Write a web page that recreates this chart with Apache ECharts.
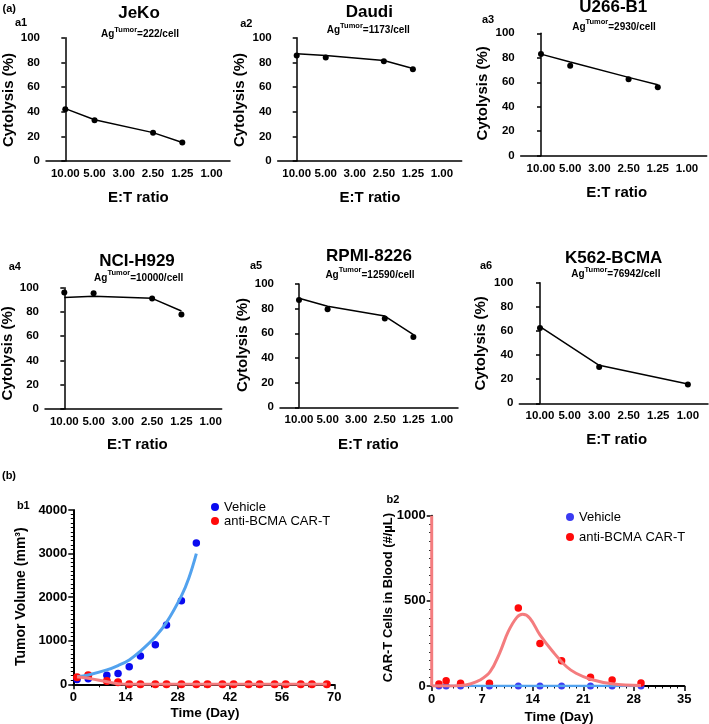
<!DOCTYPE html>
<html><head><meta charset="utf-8">
<script src="https://cdn.jsdelivr.net/npm/echarts@6/dist/echarts.min.js"></script>
<style>html,body{margin:0;padding:0;background:#fff}#c{width:709px;height:724px}</style>
</head><body><div id="c"></div>
<script>
// ---------- DATA ----------
const etLabels = ['10.00', '5.00', '3.00', '2.50', '1.25', '1.00'];
const cellLines = ['JeKo', 'Daudi', 'U266-B1', 'NCI-H929', 'RPMI-8226', 'K562-BCMA'];
const agValues = ['222', '1173', '2930', '10000', '12590', '76942'];
const panelTags = ['a1', 'a2', 'a3', 'a4', 'a5', 'a6'];

const ratios4 = ['10.00', '5.00', '2.50', '1.25'];
const ratios3 = ['10.00', '3.00', '1.00'];

const a1Points = [42, 33, 23, 15];
const a1Line = [42.5, 33.5, 23, 15];
const a2Points = [85.5, 84, 81, 74.5];
const a2Line = [87, 85.5, 81.5, 75];
const a3Points = [83, 73.5, 62.5, 56];
const a3Line = [83, 76.5, 64, 58];
const a4Points = [96, 95.5, 91, 78];
const a4Line = [92, 93, 91.2, 80.8];
const a5Points = [87, 79.5, 72, 57];
const a5Line = [88.5, 82, 74, 59];
const a6Points = [62.5, 30, 15.5];
const a6Line = [63.5, 31.5, 16];

// b1: tumor volume
const vehDays = [1, 4, 9, 12, 15, 18, 22, 25, 29, 33];
const vehVol = [112, 125, 205, 250, 400, 650, 910, 1360, 1915, 3240];
const carDays = [1, 4, 9, 12, 15, 18, 22, 25, 29, 33, 36, 40, 43, 47, 50, 54, 57, 61, 64, 68];
const carVol = [160, 210, 75, 45, 0, 0, 0, 0, 0, 0, 0, 0, 0, 0, 0, 0, 0, 0, 0, 0];
const vehFitDays = [1, 4, 9, 12, 15, 18, 22, 25, 29, 31, 33];
const vehFitVol = [175, 215, 330, 430, 560, 760, 1090, 1420, 2030, 2440, 3000];
const carFitDays = [1, 4, 9, 12, 15, 68];
const carFitVol = [175, 140, 60, 15, 2, 0];

// b2: CAR-T cells in blood
const bloodDays = [1, 2, 4, 8, 12, 15, 18, 22, 25, 29];
const bloodCar = [12, 31, 16, 16, 458, 250, 149, 51, 35, 18];
const bloodVeh = [0, 0, 0, 0, 0, 0, 0, 0, 0, 0];
const bloodVehFitDays = [0, 29];
const bloodVehFitVal = [0, 0];
const bloodCarSpikeDays = [0, 0];
const bloodCarSpikeVal = [0, 1000];
const bloodCarFitDays = [0, 2, 4, 5.3, 6.7, 8.1, 9.4, 10.6, 11.8, 12.6, 13.6, 15, 16.8, 18.7, 20, 22, 25, 29];
const bloodCarFitVal = [0, 0, 3, 12, 35, 84, 192, 319, 403, 421, 398, 300, 201, 113, 75, 40, 13, 3];

// ---------- LAYOUT ----------
const FONT = '"Liberation Sans", Arial, Helvetica, sans-serif';
const aLayout = [
  {left: 46, top: 37.7, right: 230, bottom: 161, xmin: -0.66, xmax: 5.63},
  {left: 277.7, top: 37.7, right: 461.7, bottom: 161, xmin: -0.654, xmax: 5.68},
  {left: 520.7, top: 33.3, right: 706.7, bottom: 155.7, xmin: -0.695, xmax: 5.675},
  {left: 45, top: 287.7, right: 221.7, bottom: 409, xmin: -0.66, xmax: 5.376},
  {left: 280, top: 284, right: 458, bottom: 407.3, xmin: -0.664, xmax: 5.56},
  {left: 519.3, top: 282.7, right: 708, bottom: 403.3, xmin: -0.70, xmax: 5.68}
];
const aText = [
  {title: [139, 13], sub: [140, 32.5], tag: [21, 23.3], ylab: [9.2, 100], xlab: [138.3, 198.3]},
  {title: [369.3, 12.7], sub: [368.3, 28.5], tag: [246.3, 24], ylab: [240, 100], xlab: [370, 198.3]},
  {title: [613.3, 7], sub: [614, 25], tag: [488, 20], ylab: [482.5, 93.3], xlab: [616.7, 193]},
  {title: [137, 261.7], sub: [138.7, 276], tag: [14.8, 266.7], ylab: [7.5, 353.3], xlab: [137.3, 445]},
  {title: [369, 256.7], sub: [370, 273.3], tag: [256, 266], ylab: [243.2, 345], xlab: [368.3, 445]},
  {title: [613.7, 258.3], sub: [615.8, 272.7], tag: [486, 266], ylab: [480.8, 343.3], xlab: [616.7, 440]}
];

const aPoints = [a1Points, a2Points, a3Points, a4Points, a5Points, a6Points];
const aLines = [a1Line, a2Line, a3Line, a4Line, a5Line, a6Line];
const aRatios = [ratios4, ratios4, ratios4, ratios4, ratios4, ratios3];

const grids = [], xAxes = [], yAxes = [], series = [], graphics = [];
const plain = v => String(v);

function txt(x, y, text, size, weight, extra) {
  const o = {type: 'text', x: x, y: y, z: 100,
    style: Object.assign({text: text, fontSize: size, fontWeight: weight || 'bold', fontFamily: FONT,
      fill: '#000', align: 'center', verticalAlign: 'middle'}, (extra && extra.style) || {})};
  if (extra && extra.rotation) o.rotation = extra.rotation;
  graphics.push(o);
}

for (let i = 0; i < 6; i++) {
  const L = aLayout[i];
  grids.push({left: L.left, top: L.top, width: L.right - L.left, height: L.bottom - L.top, containLabel: false, outerBoundsMode: 'none'});
  xAxes.push({
    type: 'value', gridIndex: i, min: L.xmin, max: L.xmax,
    axisLine: {show: true, onZero: false, lineStyle: {color: '#000', width: 1.5}},
    axisTick: {show: false}, splitLine: {show: false},
    axisLabel: {
      customValues: etLabels.map((_, k) => k),
      formatter: v => etLabels[Math.round(v)],
      fontSize: 11.5, fontWeight: 'bold', fontFamily: FONT, color: '#000', margin: 7
    }
  });
  yAxes.push({
    type: 'value', gridIndex: i, min: 0, max: 100, interval: 20,
    axisLine: {show: true, lineStyle: {color: '#000', width: 1.5}},
    axisTick: {show: true, length: 4, lineStyle: {color: '#000', width: 1.5}},
    splitLine: {show: false},
    axisLabel: {fontSize: 11.5, fontWeight: 'bold', fontFamily: FONT, color: '#000', margin: 6, formatter: plain}
  });
  const r = aRatios[i];
  series.push({
    type: 'line', xAxisIndex: i, yAxisIndex: i, symbol: 'none', silent: true,
    lineStyle: {color: '#000', width: 1.5},
    data: aLines[i].map((v, k) => [etLabels.indexOf(r[k]), v])
  });
  series.push({
    type: 'scatter', xAxisIndex: i, yAxisIndex: i, symbolSize: 6,
    itemStyle: {color: '#000', opacity: 1},
    data: aPoints[i].map((v, k) => [etLabels.indexOf(r[k]), v])
  });
  const T = aText[i];
  txt(T.title[0], T.title[1], cellLines[i], 17, 'bold');
  graphics.push({type: 'text', x: T.sub[0], y: T.sub[1], z: 100, style: {
    text: '{a|Ag}{s|Tumor}{a|=' + agValues[i] + '/cell}', align: 'center', verticalAlign: 'middle',
    fontFamily: FONT, fill: '#000',
    rich: {
      a: {fontSize: 10, fontWeight: 'bold', fontFamily: FONT, fill: '#000', lineHeight: 14, verticalAlign: 'bottom'},
      s: {fontSize: 7.5, fontWeight: 'bold', fontFamily: FONT, fill: '#000', lineHeight: 14, verticalAlign: 'top'}
    }}});
  txt(T.tag[0], T.tag[1], panelTags[i], 11, 'bold');
  txt(T.ylab[0], T.ylab[1], 'Cytolysis (%)', 15, 'bold', {rotation: Math.PI / 2});
  txt(T.xlab[0], T.xlab[1], 'E:T ratio', 15, 'bold');
}
txt(9.2, 9.2, '(a)', 11, 'bold');
txt(9, 476, '(b)', 11, 'bold');
txt(23.3, 506, 'b1', 11, 'bold');
txt(393, 499.5, 'b2', 11, 'bold');

// b1 grid index 6
grids.push({left: 73.3, top: 510, width: 261, height: 174.3, containLabel: false, outerBoundsMode: 'none'});
xAxes.push({
  type: 'value', gridIndex: 6, min: 0, max: 70, interval: 14,
  axisLine: {show: true, onZero: false, lineStyle: {color: '#000', width: 2}},
  axisTick: {show: true, length: 5, lineStyle: {color: '#000', width: 1.5}},
  minorTick: {show: true, splitNumber: 2, length: 3, lineStyle: {color: '#000', width: 1}},
  splitLine: {show: false}, minorSplitLine: {show: false},
  axisLabel: {fontSize: 13, fontWeight: 'bold', fontFamily: FONT, color: '#000', margin: 7, formatter: plain}
});
yAxes.push({
  type: 'value', gridIndex: 6, min: 0, max: 4000, interval: 1000,
  axisLine: {show: true, lineStyle: {color: '#000', width: 2}},
  axisTick: {show: true, length: 5, lineStyle: {color: '#000', width: 1.5}},
  minorTick: {show: true, splitNumber: 10, length: 2.5, lineStyle: {color: '#000', width: 1}},
  splitLine: {show: false}, minorSplitLine: {show: false},
  axisLabel: {fontSize: 13, fontWeight: 'bold', fontFamily: FONT, color: '#000', margin: 6, formatter: plain}
});
// b2 grid index 7
grids.push({left: 431.7, top: 515.7, width: 252.6, height: 170.3, containLabel: false, outerBoundsMode: 'none'});
xAxes.push({
  type: 'value', gridIndex: 7, min: 0, max: 35, interval: 7,
  axisLine: {show: true, onZero: false, lineStyle: {color: '#000', width: 2}},
  axisTick: {show: true, length: 5, lineStyle: {color: '#000', width: 1.5}},
  minorTick: {show: true, splitNumber: 7, length: 2.5, lineStyle: {color: '#000', width: 1}},
  splitLine: {show: false}, minorSplitLine: {show: false},
  axisLabel: {fontSize: 13, fontWeight: 'bold', fontFamily: FONT, color: '#000', margin: 7, formatter: plain}
});
yAxes.push({
  type: 'value', gridIndex: 7, min: 0, max: 1000, interval: 500,
  axisLine: {show: true, lineStyle: {color: '#000', width: 2}},
  axisTick: {show: true, length: 5, lineStyle: {color: '#000', width: 1.5}},
  minorTick: {show: true, splitNumber: 10, length: 2.5, lineStyle: {color: '#000', width: 1}},
  splitLine: {show: false}, minorSplitLine: {show: false},
  axisLabel: {fontSize: 13, fontWeight: 'bold', fontFamily: FONT, color: '#000', margin: 6, formatter: plain}
});

const BLUE = '#0a0af0', BLUE2 = '#3b3bf2', RED = '#ff0a0a', LBLUE = '#52a2ee', PINK = '#f47c7e';
series.push(
  {type: 'line', name: 'vehFit', xAxisIndex: 6, yAxisIndex: 6, symbol: 'none', smooth: 0.4, silent: true,
   lineStyle: {color: LBLUE, width: 3}, data: vehFitDays.map((d, k) => [d, vehFitVol[k]])},
  {type: 'line', name: 'carFit', xAxisIndex: 6, yAxisIndex: 6, symbol: 'none', smooth: 0.4, silent: true,
   lineStyle: {color: PINK, width: 3}, data: carFitDays.map((d, k) => [d, carFitVol[k]])},
  {type: 'scatter', name: 'Vehicle', xAxisIndex: 6, yAxisIndex: 6, symbolSize: 7.5,
   itemStyle: {color: BLUE, opacity: 1}, data: vehDays.map((d, k) => [d, vehVol[k]])},
  {type: 'scatter', name: 'anti-BCMA CAR-T', xAxisIndex: 6, yAxisIndex: 6, symbolSize: 8,
   itemStyle: {color: RED, opacity: 1}, data: carDays.map((d, k) => [d, carVol[k]])},

  {type: 'line', name: 'vehFit2', xAxisIndex: 7, yAxisIndex: 7, symbol: 'none', silent: true,
   lineStyle: {color: LBLUE, width: 2.5}, data: bloodVehFitDays.map((d, k) => [d, bloodVehFitVal[k]])},
  {type: 'line', name: 'carSpike2', xAxisIndex: 7, yAxisIndex: 7, symbol: 'none', silent: true, z: 5,
   lineStyle: {color: PINK, width: 3}, data: bloodCarSpikeDays.map((d, k) => [d, bloodCarSpikeVal[k]])},
  {type: 'line', name: 'carFit2', xAxisIndex: 7, yAxisIndex: 7, symbol: 'none', smooth: 0.4, silent: true,
   lineStyle: {color: PINK, width: 3}, data: bloodCarFitDays.map((d, k) => [d, bloodCarFitVal[k]])},
  {type: 'scatter', name: 'Vehicle', xAxisIndex: 7, yAxisIndex: 7, symbolSize: 7,
   itemStyle: {color: BLUE2, opacity: 1}, data: bloodDays.map((d, k) => [d, bloodVeh[k]])},
  {type: 'scatter', name: 'anti-BCMA CAR-T', xAxisIndex: 7, yAxisIndex: 7, symbolSize: 7.5,
   itemStyle: {color: RED, opacity: 1}, data: bloodDays.map((d, k) => [d, bloodCar[k]])}
);

txt(20.8, 596.7, 'Tumor Volume (mm³)', 14, 'bold', {rotation: Math.PI / 2});
txt(205, 713, 'Time (Day)', 13.5, 'bold');
txt(388.3, 597.5, 'CAR-T Cells in Blood (#/µL)', 13, 'bold', {rotation: Math.PI / 2});
txt(559, 717, 'Time (Day)', 13.5, 'bold');

const legendText = {fontSize: 13, fontFamily: FONT, color: '#000'};
const legend1 = [
  {name: 'Vehicle', icon: 'circle', itemStyle: {color: BLUE, opacity: 1}},
  {name: 'anti-BCMA CAR-T', icon: 'circle', itemStyle: {color: RED, opacity: 1}}
];
const legend2 = [
  {name: 'Vehicle', icon: 'circle', itemStyle: {color: BLUE2, opacity: 1}},
  {name: 'anti-BCMA CAR-T', icon: 'circle', itemStyle: {color: RED, opacity: 1}}
];

const chart = echarts.init(document.getElementById('c'), null, {renderer: 'canvas'});
chart.setOption({
  animation: false,
  backgroundColor: '#fff',
  grid: grids, xAxis: xAxes, yAxis: yAxes, series: series,
  legend: [
    {orient: 'vertical', left: 211, top: 500.5, itemWidth: 8, itemHeight: 8, itemGap: 1, padding: 0,
     selectedMode: false, textStyle: legendText, data: legend1},
    {orient: 'vertical', left: 566, top: 510.5, itemWidth: 8, itemHeight: 8, itemGap: 7, padding: 0,
     selectedMode: false, textStyle: legendText, data: legend2}
  ],
  graphic: graphics
});
</script>
</body></html>
